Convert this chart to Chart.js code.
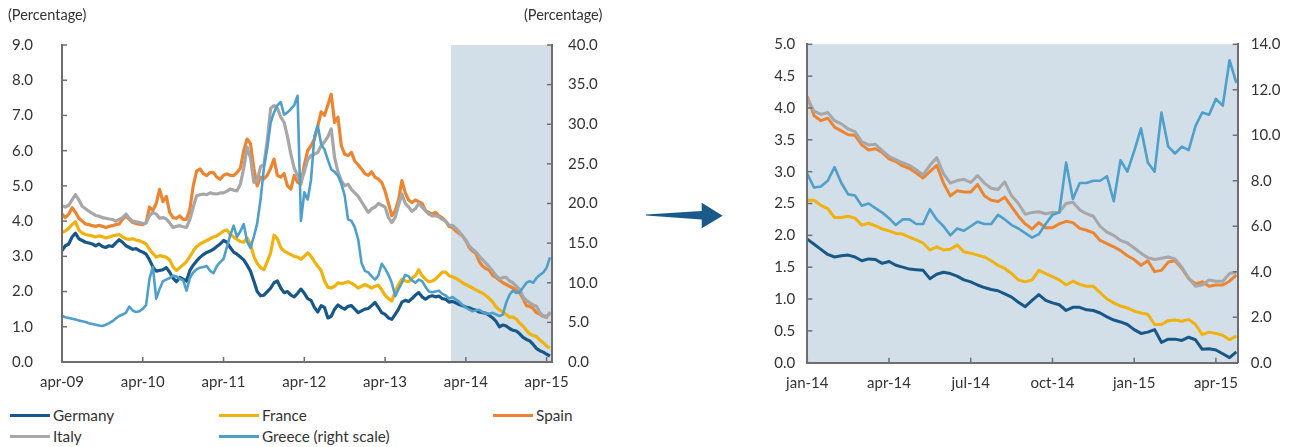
<!DOCTYPE html>
<html>
<head>
<meta charset="utf-8">
<script src="https://cdn.jsdelivr.net/npm/chart.js@4.4.1/dist/chart.umd.min.js"></script>
<style>
  body { margin: 0; background: #fff; font-family: Lato, "Open Sans", sans-serif; color: #333; }
  #wrap { position: relative; width: 1292px; height: 447px; overflow: hidden; }
  canvas { position: absolute; top: 0; }
  #left { left: 0; }
  #right { left: 740px; }
  .unit { position: absolute; top: 6px; font-size: 14.5px; line-height: 17px; }
  .leg { position: absolute; font-size: 15.3px; line-height: 18px; white-space: nowrap; }
  .leg i { position: absolute; left: -43px; top: 8px; width: 40px; height: 3px; }
</style>
</head>
<body>
<div id="wrap">
  <canvas id="left" width="620" height="400"></canvas>
  <canvas id="right" width="552" height="400"></canvas>
  <div class="unit" style="left:8px">(Percentage)</div>
  <div class="unit" style="left:524px">(Percentage)</div>
  <svg style="position:absolute;left:640px;top:195px" width="90" height="40">
    <polygon points="6,19.5 61.7,16 61.7,7.7 82.7,20.7 61.7,33.3 61.7,24.5 6,20.5" fill="#1a5a8a"/>
  </svg>
  <div id="legend"></div>
</div>
<script>
// months since apr-09, one value every half month
const leftStep = 0.5;
const leftTickMonths = [0, 12, 24, 36, 48, 60, 72];
const leftTickLabels = ['apr-09', 'apr-10', 'apr-11', 'apr-12', 'apr-13', 'apr-14', 'apr-15'];

const germanyL = [
  3.16, 3.3, 3.35, 3.55, 3.66, 3.5, 3.45, 3.4, 3.38, 3.35,
  3.3, 3.35, 3.28, 3.25, 3.3, 3.28, 3.38, 3.47, 3.4, 3.3,
  3.25, 3.2, 3.22, 3.16, 3.12, 3.06, 2.9, 2.7, 2.58, 2.6,
  2.62, 2.68, 2.55, 2.38, 2.28, 2.4, 2.35, 2.3, 2.6, 2.75,
  2.87, 2.97, 3.05, 3.11, 3.15, 3.2, 3.28, 3.35, 3.45, 3.4,
  3.25, 3.12, 3.06, 2.98, 2.9, 2.75, 2.58, 2.3, 2.0, 1.88,
  1.9, 2.0, 2.1, 2.25, 2.3, 2.1, 1.97, 2.0, 1.9, 1.85,
  1.95, 2.07, 1.95, 1.8, 1.75, 1.55, 1.42, 1.6, 1.55, 1.25,
  1.3, 1.5, 1.62, 1.55, 1.5, 1.58, 1.6, 1.5, 1.4, 1.45,
  1.5, 1.52, 1.6, 1.69, 1.55, 1.4, 1.35, 1.25, 1.21, 1.35,
  1.5, 1.7, 1.75, 1.72, 1.8, 1.9, 1.97, 1.85, 1.78, 1.85,
  1.88, 1.85, 1.87, 1.8, 1.78, 1.7, 1.72, 1.68, 1.63, 1.6,
  1.56, 1.54, 1.5, 1.47, 1.42, 1.4, 1.38, 1.32, 1.25, 1.15,
  1.0, 1.05, 1.02, 0.95, 0.9, 0.88, 0.8, 0.7, 0.64, 0.6,
  0.5, 0.38, 0.32, 0.28, 0.22, 0.17
];
const franceL = [
  3.68, 3.72, 3.8, 3.9, 3.98, 3.75, 3.66, 3.62, 3.6, 3.58,
  3.55, 3.58, 3.56, 3.52, 3.55, 3.58, 3.6, 3.62, 3.55, 3.5,
  3.48, 3.5, 3.46, 3.44, 3.4, 3.35, 3.2, 3.08, 2.98, 3.02,
  3.0, 2.97, 2.9, 2.7, 2.6, 2.68, 2.76, 2.85, 3.0, 3.15,
  3.28, 3.35, 3.4, 3.45, 3.5, 3.55, 3.58, 3.65, 3.72, 3.75,
  3.62, 3.55, 3.48, 3.42, 3.4, 3.52, 3.35, 3.0, 2.8, 2.68,
  2.62, 2.85, 3.1, 3.6, 3.5, 3.25, 3.15, 3.1, 3.05, 3.0,
  2.98, 2.92, 3.0, 3.1, 3.0, 2.85, 2.72, 2.6, 2.3, 2.12,
  2.1, 2.15, 2.25, 2.22, 2.25, 2.28, 2.24, 2.18, 2.1, 2.15,
  2.2, 2.15, 2.1, 2.15, 2.18, 2.05, 1.9, 1.8, 1.73, 2.0,
  2.2, 2.35, 2.3, 2.28, 2.38, 2.45, 2.62, 2.45, 2.35, 2.28,
  2.3, 2.35, 2.45, 2.55, 2.55, 2.45, 2.42, 2.38, 2.32, 2.25,
  2.2, 2.15, 2.1, 2.05, 2.0, 1.95, 1.88, 1.8, 1.7, 1.56,
  1.48, 1.42, 1.35, 1.27, 1.28, 1.22, 1.1, 1.02, 0.9, 0.8,
  0.75, 0.72, 0.62, 0.55, 0.45, 0.4
];
const spainL = [
  4.2, 4.1, 4.2, 4.38, 4.25, 4.08, 4.0, 3.92, 3.9, 3.87,
  3.85, 3.88, 3.85, 3.82, 3.85, 3.87, 3.9, 3.92, 4.05, 4.15,
  4.05, 3.96, 3.93, 3.91, 3.9, 3.95, 4.4, 4.3, 4.5, 4.9,
  4.55, 4.7, 4.25, 4.1, 4.08, 4.15, 4.05, 4.05, 4.34, 5.0,
  5.42, 5.48, 5.35, 5.29, 5.38, 5.38, 5.25, 5.19, 5.3, 5.34,
  5.3, 5.29, 5.38, 5.5, 6.0, 6.33, 6.2, 5.5, 5.0, 5.25,
  5.2, 5.3, 5.5, 5.76, 5.3, 5.25, 5.35, 5.0, 4.91, 5.3,
  5.1, 5.05, 5.6, 6.0, 6.14, 6.33, 6.7, 7.1, 7.0, 7.3,
  7.6, 6.8, 6.95, 6.14, 5.9, 5.86, 5.95, 5.7, 5.6, 5.48,
  5.35, 5.3, 5.4, 5.25, 5.19, 5.1, 4.85, 4.5, 4.15, 4.3,
  4.6, 5.15, 4.8, 4.6, 4.53, 4.6, 4.55, 4.5, 4.3, 4.25,
  4.2, 4.25, 4.15, 4.1, 4.0, 3.85, 3.82, 3.72, 3.65, 3.58,
  3.45, 3.25, 3.15, 3.08, 2.85, 2.72, 2.65, 2.6, 2.45, 2.4,
  2.32, 2.25, 2.2, 2.15, 2.1, 2.05, 1.96, 1.8, 1.6, 1.58,
  1.52, 1.4, 1.35, 1.3, 1.3, 1.38
];
const italyL = [
  4.44, 4.4, 4.45, 4.6, 4.75, 4.6, 4.42, 4.35, 4.28, 4.22,
  4.16, 4.14, 4.1, 4.08, 4.06, 4.05, 4.0, 4.05, 4.1, 4.2,
  4.08, 4.0, 3.98, 3.96, 3.93, 3.95, 4.15, 4.25, 4.2, 4.08,
  4.1, 4.06, 3.95, 3.82, 3.85, 3.87, 3.84, 3.82, 4.05, 4.4,
  4.72, 4.75, 4.77, 4.75, 4.8, 4.78, 4.77, 4.8, 4.8, 4.85,
  4.91, 4.88, 4.86, 5.05, 5.5, 6.1, 5.8, 5.1, 5.15, 5.55,
  5.6, 6.3, 7.2, 7.28, 7.2, 6.95, 6.8, 6.4, 5.9, 5.5,
  5.3, 5.1, 5.4, 5.75, 5.86, 5.9, 5.95, 6.14, 6.25, 6.4,
  6.62, 5.8, 5.4, 5.15, 5.0, 5.05, 4.9, 4.8, 4.7, 4.55,
  4.4, 4.25, 4.35, 4.4, 4.5, 4.45, 4.4, 4.1, 3.96, 4.1,
  4.45, 4.77, 4.5, 4.4, 4.28, 4.35, 4.5, 4.4, 4.3, 4.2,
  4.15, 4.15, 4.12, 4.05, 4.0, 3.88, 3.88, 3.8, 3.7, 3.58,
  3.45, 3.3, 3.2, 3.12, 3.0, 2.9, 2.8, 2.7, 2.58, 2.45,
  2.36, 2.4, 2.4, 2.3, 2.25, 2.15, 2.06, 1.85, 1.75, 1.68,
  1.62, 1.58, 1.4, 1.3, 1.26, 1.42
];
// Greece, right scale
const greeceL = [
  5.8, 5.65, 5.55, 5.45, 5.35, 5.25, 5.15, 5.05, 4.9, 4.8,
  4.7, 4.6, 4.55, 4.7, 4.9, 5.15, 5.5, 5.8, 6.0, 6.2,
  7.0, 6.5, 6.3, 6.4, 6.7, 7.2, 10.5, 12.0, 8.0, 9.2,
  10.2, 10.4, 10.6, 10.9, 10.8, 10.5, 10.3, 9.0, 10.6, 11.3,
  11.7, 11.9, 12.0, 12.1, 11.5, 11.2, 12.1, 12.6, 13.0, 14.5,
  16.0, 17.2, 15.8, 16.5, 17.4, 15.2, 14.4, 15.8, 17.5, 20.5,
  24.5, 27.0, 30.2, 31.5, 32.4, 32.8, 31.2, 31.5, 31.9, 32.4,
  33.6, 17.8, 21.4, 20.5, 23.0, 28.5, 29.8, 27.5, 26.8, 25.5,
  24.3, 24.0, 23.5, 22.5, 21.0, 18.0, 17.8, 17.0, 15.5, 12.5,
  11.5, 11.3, 10.8, 10.4, 10.9, 12.4, 11.8, 11.0, 10.0, 8.3,
  9.2, 10.0, 11.0, 10.8, 10.3, 10.0, 10.4, 10.2, 9.5, 8.9,
  8.8, 8.9, 9.0, 8.6, 8.4, 8.0, 8.2, 7.9, 7.6, 7.2,
  6.9, 6.6, 6.4, 6.5, 6.6, 6.3, 6.1, 6.1, 6.2, 6.0,
  5.8, 6.0, 7.5, 8.5, 9.0, 8.7, 8.8, 9.4, 10.0, 10.2,
  10.0, 10.6, 11.0, 11.3, 11.9, 13.2
];

// months since jan-14, one value every quarter month
const rightStep = 0.25;
const rightTickMonths = [0, 3, 6, 9, 12, 15];
const rightTickLabels = ['jan-14', 'apr-14', 'jul-14', 'oct-14', 'jan-15', 'apr-15'];

const germanyR = [
  1.94, 1.86, 1.78, 1.7, 1.66, 1.68, 1.69, 1.66, 1.6, 1.63,
  1.62, 1.56, 1.59, 1.53, 1.5, 1.47, 1.46, 1.45, 1.32, 1.39,
  1.42, 1.4, 1.36, 1.3, 1.27, 1.22, 1.18, 1.15, 1.13, 1.08,
  1.03, 0.95, 0.88, 0.98, 1.07, 0.98, 0.94, 0.91, 0.82, 0.87,
  0.87, 0.83, 0.82, 0.78, 0.72, 0.67, 0.64, 0.6, 0.52, 0.46,
  0.48, 0.52, 0.32, 0.37, 0.37, 0.35, 0.4, 0.36, 0.21, 0.22,
  0.2, 0.14, 0.08, 0.17
];
const franceR = [
  2.55, 2.55, 2.47, 2.42, 2.28, 2.28, 2.3, 2.27, 2.16, 2.19,
  2.15, 2.1, 2.07, 2.03, 2.02, 1.97, 1.93, 1.88, 1.77, 1.82,
  1.77, 1.78, 1.85, 1.74, 1.72, 1.69, 1.66, 1.6, 1.53, 1.48,
  1.4, 1.3, 1.27, 1.3, 1.45, 1.4, 1.35, 1.3, 1.22, 1.28,
  1.23, 1.2, 1.2, 1.1, 1.0, 0.94, 0.89, 0.86, 0.81, 0.78,
  0.76, 0.6, 0.6, 0.66, 0.67, 0.65, 0.68, 0.6, 0.44, 0.48,
  0.46, 0.43, 0.36, 0.42
];
const spainR = [
  4.18, 3.88, 3.8, 3.84, 3.7, 3.64, 3.58, 3.57, 3.42, 3.34,
  3.36, 3.3, 3.2, 3.16, 3.09, 3.05, 2.98, 2.9, 3.0, 3.1,
  2.82, 2.62, 2.7, 2.68, 2.68, 2.8, 2.62, 2.55, 2.53, 2.6,
  2.45, 2.3, 2.18, 2.1, 2.2, 2.12, 2.12, 2.18, 2.22, 2.2,
  2.11, 2.08, 2.04, 1.92, 1.87, 1.82, 1.76, 1.68, 1.62, 1.53,
  1.6, 1.43, 1.45, 1.58, 1.6, 1.48, 1.32, 1.24, 1.27, 1.2,
  1.22, 1.22, 1.28, 1.38
];
const italyR = [
  4.15, 3.95, 3.9, 3.93, 3.8, 3.75, 3.67, 3.63, 3.47, 3.42,
  3.43, 3.33, 3.24, 3.19, 3.14, 3.1, 3.03, 2.95, 3.1, 3.22,
  2.97, 2.82, 2.86, 2.88, 2.83, 2.94, 2.82, 2.74, 2.72, 2.84,
  2.62, 2.5, 2.33, 2.36, 2.37, 2.34, 2.36, 2.36, 2.5, 2.52,
  2.4, 2.34, 2.3, 2.14, 2.05, 2.0, 1.92, 1.88, 1.8, 1.72,
  1.65, 1.62, 1.64, 1.66, 1.63, 1.5, 1.33, 1.2, 1.22, 1.3,
  1.28, 1.28, 1.4, 1.42
];
const greeceR = [
  8.3, 7.7, 7.75, 8.0, 8.6, 7.9, 7.4, 7.35, 6.9, 7.0,
  6.8, 6.6, 6.35, 6.05, 6.3, 6.3, 6.1, 6.1, 6.75, 6.3,
  6.0, 5.6, 5.9, 5.8, 6.0, 6.2, 6.1, 6.1, 6.5, 6.3,
  6.05, 5.9, 5.7, 5.5, 5.65, 6.1, 6.5, 6.6, 8.8, 7.2,
  7.9, 7.9, 8.0, 8.0, 8.2, 7.1, 8.9, 8.4, 9.3, 10.3,
  8.8, 8.4, 11.0, 9.5, 9.2, 9.5, 9.35, 10.4, 11.0, 10.9,
  11.6, 11.3, 13.3, 12.3
];

const names = ['Germany', 'France', 'Spain', 'Italy', 'Greece (right scale)'];
const colors = ['#185888', '#efb20f', '#ec8532', '#a7a7a9', '#4e9fca'];

const FONT = 'Lato, "Open Sans", sans-serif';
const AXIS = '#6e6e6e';
const SHADE = '#d2dfe8';

const shadePlugin = {
  id: 'shade',
  beforeDatasetsDraw(chart, args, opts) {
    const { ctx, chartArea: a } = chart;
    const x0 = Math.max(a.left, chart.scales.x.getPixelForValue(opts.from));
    ctx.save();
    ctx.fillStyle = SHADE;
    ctx.fillRect(x0, a.top, a.right - x0, a.bottom - a.top);
    ctx.restore();
  }
};

// short tick marks pointing into the plot
const tickPlugin = {
  id: 'inTicks',
  afterDraw(chart) {
    const { ctx, chartArea: a } = chart;
    ctx.save();
    ctx.strokeStyle = AXIS;
    ctx.lineWidth = 1.5;
    Object.values(chart.scales).forEach(s => {
      s.ticks.forEach(t => {
        const p = s.getPixelForValue(t.value);
        ctx.beginPath();
        if (s.axis === 'x') { ctx.moveTo(p, a.bottom); ctx.lineTo(p, a.bottom - 5); }
        else if (s.position === 'left') { ctx.moveTo(a.left, p); ctx.lineTo(a.left + 5, p); }
        else { ctx.moveTo(a.right, p); ctx.lineTo(a.right - 5, p); }
        ctx.stroke();
      });
    });
    ctx.restore();
  }
};

function makeSets(list, step, widths) {
  return list.map((vals, k) => ({
    label: names[k],
    data: vals.map((v, i) => ({ x: i * step, y: v })),
    borderColor: colors[k],
    borderWidth: widths[k],
    pointRadius: 0,
    tension: 0,
    borderJoinStyle: 'round',
    yAxisID: k === 4 ? 'y2' : 'y',
    order: 4 - k
  }));
}

function yAxis(pos, max, step, pad, width) {
  return {
    position: pos, min: 0, max: max,
    afterFit: s => { s.width = width; },
    grid: { display: false, drawTicks: false },
    border: { color: AXIS, width: 2, z: 1 },
    ticks: { stepSize: step, padding: pad, color: '#333', font: { family: FONT, size: 15 }, callback: v => v.toFixed(1) }
  };
}

function xAxis(max, tickVals, tickLabels) {
  return {
    type: 'linear', min: 0, max: max,
    afterBuildTicks: s => { s.ticks = tickVals.map(v => ({ value: v })); },
    afterFit: s => { s.height = 37.3; },
    grid: { display: false, drawTicks: false },
    border: { color: AXIS, width: 2, z: 1 },
    ticks: { padding: 11, autoSkip: false, maxRotation: 0, color: '#333', font: { family: FONT, size: 15 },
      callback: (v, i) => tickLabels[i] }
  };
}

function baseOptions(top) {
  return {
    responsive: false,
    animation: false,
    devicePixelRatio: 1,
    layout: { padding: { top: top, left: 0, right: 0, bottom: 0 } },
    plugins: { legend: { display: false }, tooltip: { enabled: false } }
  };
}

const leftOpts = baseOptions(45);
leftOpts.plugins.shade = { from: 57.8 };
leftOpts.scales = {
  x: xAxis(72.8, leftTickMonths, leftTickLabels),
  y: yAxis('left', 9, 1, 29, 62),
  y2: yAxis('right', 40, 5, 16, 68)
};
new Chart(document.getElementById('left'), {
  type: 'line',
  data: { datasets: makeSets([germanyL, franceL, spainL, italyL, greeceL], leftStep, [3.2, 3.2, 3.2, 3.2, 2.6]) },
  options: leftOpts,
  plugins: [shadePlugin, tickPlugin]
});

const rightOpts = baseOptions(44.3);
rightOpts.plugins.shade = { from: 0 };
rightOpts.scales = {
  x: xAxis(15.8, rightTickMonths, rightTickLabels),
  y: yAxis('left', 5, 0.5, 12, 67.3),
  y2: yAxis('right', 14, 2, 13, 54.3)
};
new Chart(document.getElementById('right'), {
  type: 'line',
  data: { datasets: makeSets([germanyR, franceR, spainR, italyR, greeceR], rightStep, [3, 3, 3, 3, 2.6]) },
  options: rightOpts,
  plugins: [shadePlugin, tickPlugin]
});

// legend laid out like the original: three columns, two rows
const legendPos = [[53, 406], [262, 406], [536, 406], [53, 427], [262, 427]];
const legendBox = document.getElementById('legend');
names.forEach((name, k) => {
  const d = document.createElement('div');
  d.className = 'leg';
  d.style.left = legendPos[k][0] + 'px';
  d.style.top = legendPos[k][1] + 'px';
  d.innerHTML = '<i style="background:' + colors[k] + '"></i>' + name;
  legendBox.appendChild(d);
});
</script>
</body>
</html>
